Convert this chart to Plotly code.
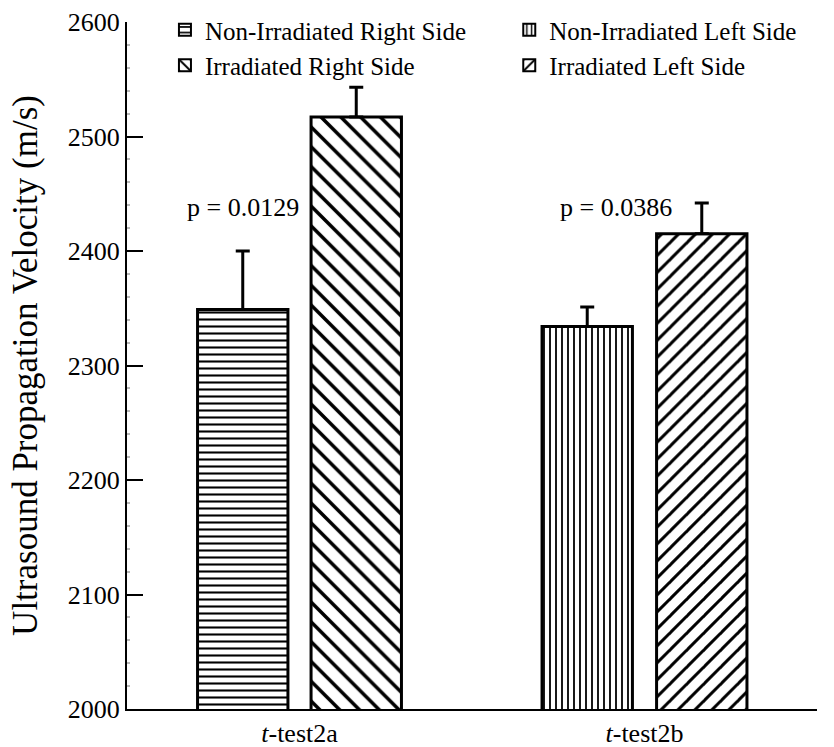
import plotly.graph_objects as go

# ---- data ----
categories = ["<i>t</i>-test2a", "<i>t</i>-test2b"]
series_names = ["Non-Irradiated Right Side", "Irradiated Right Side",
                "Non-Irradiated Left Side", "Irradiated Left Side"]
series_category = [0, 0, 1, 1]
series_values = [2349, 2517, 2334, 2415]
series_errors = [51, 26, 17, 27]
p_labels = ["p = 0.0129", "p = 0.0386"]
p_label_y = [2438, 2438]
y_ticks = [2000, 2100, 2200, 2300, 2400, 2500, 2600]

# ---- styling ----
FONT = "Liberation Serif, Times New Roman, serif"
shapes = ["-", "\\", "|", "/"]
psizes = [7, 14, 6, 12]
psolid = [0.3, 0.25, 0.3, 0.25]
offsets = [-0.2955, 0.0335, -0.297, 0.035]
legends = ["legend", "legend", "legend2", "legend2"]
BW = 0.262

H, MB, PLOT_TOP = 747, 38, 22
paper_h = H - MB

fig = go.Figure()
for i, name in enumerate(series_names):
    fig.add_trace(go.Bar(
        x=[categories[series_category[i]]],
        y=[series_values[i]],
        name=name,
        width=BW,
        offset=offsets[i],
        marker=dict(color="white",
                    line=dict(color="black", width=3),
                    pattern=dict(shape=shapes[i], fgcolor="black", bgcolor="white",
                                 fgopacity=1, size=psizes[i], solidity=psolid[i])),
        error_y=dict(type="data", array=[series_errors[i]], arrayminus=[0],
                     symmetric=False, color="black", thickness=3, width=7),
        legend=legends[i],
    ))

# p-value annotations
p_x = [-0.1645, 0.918]
for j, txt in enumerate(p_labels):
    fig.add_annotation(x=p_x[j], y=p_label_y[j], xref="x", yref="y", text=txt,
                       showarrow=False, font=dict(family=FONT, size=26, color="black"))

leg_y = 1 - 7 / paper_h
fig.update_layout(
    width=834, height=H,
    margin=dict(l=127, r=17, t=0, b=MB, autoexpand=False),
    paper_bgcolor="white", plot_bgcolor="white",
    barmode="overlay",
    font=dict(family=FONT, size=26, color="black"),
    showlegend=True,
    legend=dict(x=0.055, y=leg_y, xanchor="left", yanchor="top",
                bgcolor="rgba(0,0,0,0)", font=dict(family=FONT, size=25),
                tracegroupgap=0, itemsizing="constant"),
    legend2=dict(x=0.554, y=leg_y, xanchor="left", yanchor="top",
                 bgcolor="rgba(0,0,0,0)", font=dict(family=FONT, size=25),
                 tracegroupgap=0, itemsizing="constant"),
    xaxis=dict(type="category", categoryarray=categories, range=[-0.5, 1.5],
               showline=True, linecolor="black", linewidth=2, ticks="",
               showgrid=False, zeroline=False, automargin=False,
               tickfont=dict(family=FONT, size=26)),
    yaxis=dict(range=[2000, 2600], tickvals=y_ticks, showline=True,
               domain=[0, 1 - PLOT_TOP / paper_h], automargin=False,
               linecolor="black", linewidth=2, ticks="inside", ticklen=16,
               tickwidth=2, tickcolor="black", showgrid=False, zeroline=False,
               tickfont=dict(family=FONT, size=26),
               minor=dict(ticks="inside", ticklen=3, tickcolor="#bbbbbb", dtick=20),
               title=dict(text="Ultrasound Propagation Velocity (m/s)",
                          font=dict(family=FONT, size=35), standoff=20)),
)

fig.write_html("out.html")
